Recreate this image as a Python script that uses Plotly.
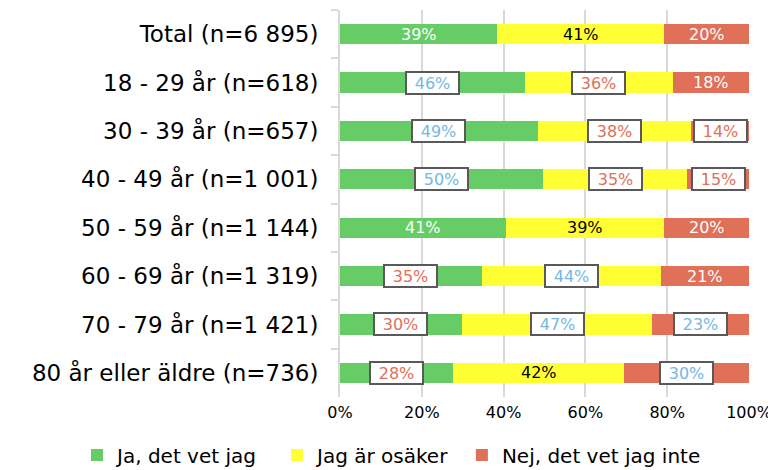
import plotly.graph_objects as go

categories = ["Total (n=6 895)", "18 - 29 år (n=618)", "30 - 39 år (n=657)",
              "40 - 49 år (n=1 001)", "50 - 59 år (n=1 144)", "60 - 69 år (n=1 319)",
              "70 - 79 år (n=1 421)", "80 år eller äldre (n=736)"]
series_names = ["Ja, det vet jag", "Jag är osäker", "Nej, det vet jag inte"]
ja = [38.5, 45.2, 48.3, 49.7, 40.6, 34.6, 29.8, 27.6]
osaker = [40.8, 36.2, 37.6, 35.2, 38.7, 44.0, 46.6, 41.9]
nej = [20.7, 18.6, 14.1, 15.1, 20.7, 21.4, 23.6, 30.5]
ja_labels = [39, 46, 49, 50, 41, 35, 30, 28]
osaker_labels = [41, 36, 38, 35, 39, 44, 47, 42]
nej_labels = [20, 18, 14, 15, 20, 21, 23, 30]
# label style per cell: "p" plain, "b" boxed blue text, "r" boxed red text
ja_style = ["p", "b", "b", "b", "p", "r", "r", "r"]
osaker_style = ["p", "r", "r", "r", "p", "b", "b", "p"]
nej_style = ["p", "p", "r", "r", "p", "p", "b", "b"]
x_ticks = [0, 20, 40, 60, 80, 100]

colors = ["#66CC66", "#FFFF33", "#E07058"]
plain_text_colors = ["white", "black", "white"]
BLUE = "#74B8E2"
RED = "#E07058"
FONT = "DejaVu Sans"

fig = go.Figure()
series = [ja, osaker, nej]
legend_ids = ["legend", "legend2", "legend3"]
for name, vals, col, lg in zip(series_names, series, colors, legend_ids):
    fig.add_trace(go.Bar(y=categories, x=vals, name=name, orientation="h", legend=lg,
                         showlegend=True, marker=dict(color=col, line=dict(width=0))))

labels = [ja_labels, osaker_labels, nej_labels]
styles = [ja_style, osaker_style, nej_style]
for i, cat in enumerate(categories):
    cum = 0
    for s in range(3):
        v = series[s][i]
        mid = cum + v / 2
        cum += v
        txt = f"{labels[s][i]}%"
        st = styles[s][i]
        if st == "p":
            fig.add_annotation(x=mid, y=cat, text=txt, showarrow=False,
                               font=dict(family=FONT, size=16, color=plain_text_colors[s]))
        else:
            fig.add_annotation(x=mid, y=cat, text=txt, showarrow=False,
                               font=dict(family=FONT, size=16, color=BLUE if st == "b" else RED),
                               bgcolor="white", bordercolor="#595959", borderwidth=2,
                               borderpad=1, width=49, height=18)

def legend_at(xpos):
    return dict(visible=True, orientation="h", xref="paper", yref="paper", x=xpos,
                xanchor="left", y=-0.15, yanchor="middle", font=dict(family=FONT, size=20),
                itemwidth=30, bgcolor="rgba(0,0,0,0)")

# the page body has an 8px margin, so the figure is sized and placed to compensate
fig.update_layout(
    showlegend=True,
    barmode="stack", bargap=0.58,
    width=768, height=462,
    margin=dict(l=332, r=27, t=2, b=73, autoexpand=False),
    paper_bgcolor="white", plot_bgcolor="white",
    font=dict(family=FONT, color="#000000"),
    legend=legend_at(-0.643), legend2=legend_at(-0.154), legend3=legend_at(0.298),
    xaxis=dict(range=[0, 100], tickvals=x_ticks, ticktext=[f"{t}%" for t in x_ticks],
               showgrid=True, gridcolor="#D9D9D9", gridwidth=2, zeroline=False,
               tickfont=dict(family=FONT, size=16), ticks="", showline=False,
               ticklabelstandoff=4, automargin=False),
    yaxis=dict(autorange="reversed", categoryorder="array", categoryarray=categories,
               tickfont=dict(family=FONT, size=23), showline=True, linecolor="#D9D9D9",
               linewidth=2, ticks="outside", tickson="boundaries", ticklen=7,
               tickcolor="#D9D9D9", tickwidth=2, ticklabelstandoff=15, automargin=False),
)

fig.write_html("out.html")
